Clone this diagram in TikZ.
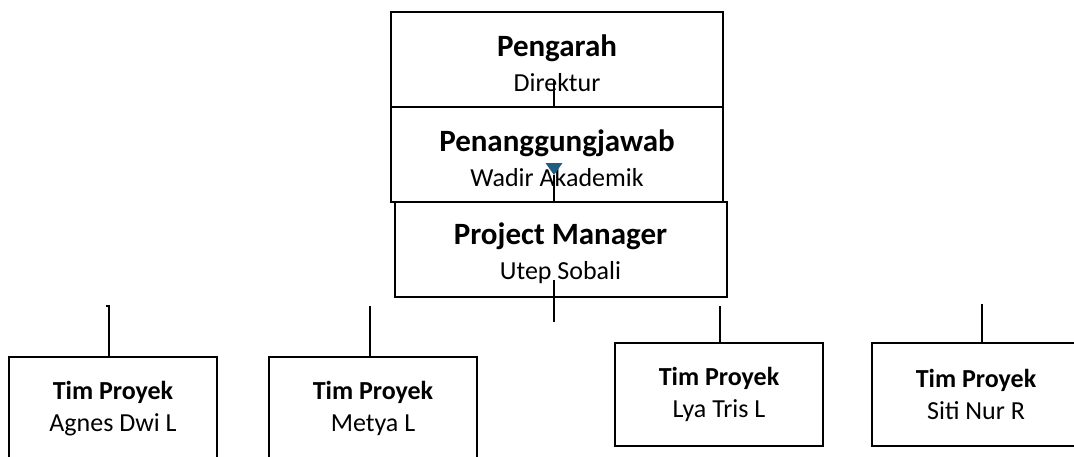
\documentclass[tikz,border=0pt]{standalone}
\usepackage{fontspec}
\setmainfont{Carlito}
\usetikzlibrary{arrows.meta,calc}
\definecolor{tipblue}{RGB}{31,94,128}
\tikzset{
    post/.style =   {rectangle,
                    fill=white,
                    draw=black,
                    text=black,
                    line width=2pt,
                    align=center,
                    inner sep=0pt},
    toppost/.style = {post,
                    minimum width=332pt,
                    minimum height=95pt,
                    font=\fontsize{26}{35}\selectfont},
    teampost/.style = {post,
                    minimum width=208pt,
                    minimum height=103pt,
                    font=\fontsize{26}{32}\selectfont},
    link/.style =   {draw=black,
                    line width=2pt},
    flag/.style =   {{Triangle[reversed,length=12pt,width=17pt,fill=tipblue,color=tipblue,line width=0pt]}-}}

\newcommand{\headline}[1]{{\fontsize{31}{35}\selectfont\bfseries\rule{0pt}{31pt}#1}}
\newcommand{\teamline}[1]{{\bfseries #1}}

\begin{document}
\begin{tikzpicture}[x=1pt,y=-1pt]
            \useasboundingbox (0,0) rectangle (1074,456);

            \node[toppost]      (pengarah) at (557,59)      {\headline{Pengarah}\\Direktur};
            \node[toppost]      (pj)       at (557,154)     {\headline{Penanggungjawab}\\Wadir Akademik};
            \node[toppost]      (pm)       at (560.5,249)   {\headline{Project Manager}\\Utep Sobali};

            \node[teampost]     (agnes)    at (113,408.5)   {\teamline{Tim Proyek}\\Agnes Dwi L};
            \node[teampost]     (metya)    at (373,408.5)   {\teamline{Tim Proyek}\\Metya L};
            \node[teampost]     (lya)      at (719,394.5)   {\teamline{Tim Proyek}\\Lya Tris L};
            \node[teampost]     (siti)     at (976,394.5)   {\teamline{Tim Proyek}\\Siti Nur R};

            % loose line ends
            \coordinate         (c1) at (554,80);
            \coordinate         (c2) at (554,163);
            \coordinate         (c3) at (554,280);
            \coordinate         (c4) at (554,322);
            \coordinate         (t1) at (109,306);
            \coordinate         (t2) at (370,306);
            \coordinate         (t3) at (720,306);
            \coordinate         (t4) at (982,304);

            \path [link]        (c1) edge []            (c1 |- pj.north)
                                (c2) edge [flag]        (c2 |- pm.north)
                                (c3) edge []            (c4)
                                (t2) edge []            (t2 |- metya.north)
                                (t3) edge []            (t3 |- lya.north)
                                (t4) edge []            (t4 |- siti.north);
            \draw [link]        ($(t1)+(-3,0)$) -- (t1) -- (t1 |- agnes.north);
        \end{tikzpicture}
\end{document}
